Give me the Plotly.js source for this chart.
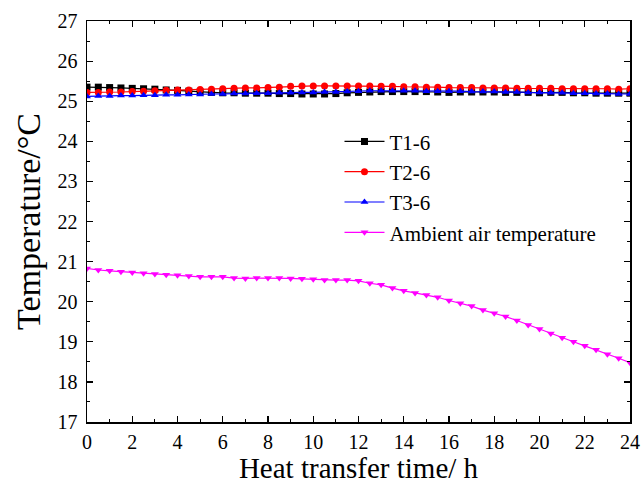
<!DOCTYPE html>
<html>
<head>
<meta charset="utf-8">
<script src="https://cdn.plot.ly/plotly-3.0.1.min.js"></script>
<style>html,body{margin:0;padding:0;background:#fff;}#chart{width:643px;height:484px;}</style>
</head>
<body>
<div id="chart"></div>
<script>
// time in hours, 0..24 step 0.5
var hours = [0,0.5,1,1.5,2,2.5,3,3.5,4,4.5,5,5.5,6,6.5,7,7.5,8,8.5,9,9.5,10,10.5,11,11.5,12,12.5,13,13.5,14,14.5,15,15.5,16,16.5,17,17.5,18,18.5,19,19.5,20,20.5,21,21.5,22,22.5,23,23.5,24];

var t1 = [25.35,25.35,25.34,25.33,25.32,25.31,25.30,25.28,25.27,25.25,25.23,25.22,25.21,25.21,25.20,25.20,25.20,25.19,25.19,25.18,25.18,25.18,25.19,25.21,25.22,25.23,25.24,25.24,25.24,25.24,25.24,25.23,25.22,25.23,25.23,25.23,25.23,25.22,25.22,25.22,25.21,25.22,25.22,25.21,25.21,25.20,25.20,25.20,25.20];

var t2 = [25.22,25.22,25.23,25.23,25.24,25.25,25.26,25.27,25.28,25.28,25.29,25.30,25.31,25.32,25.33,25.33,25.34,25.35,25.37,25.38,25.38,25.38,25.38,25.38,25.38,25.38,25.37,25.37,25.36,25.36,25.35,25.35,25.34,25.34,25.34,25.33,25.33,25.33,25.32,25.32,25.32,25.32,25.31,25.31,25.31,25.31,25.31,25.30,25.31];

var t3 = [25.12,25.13,25.13,25.14,25.14,25.15,25.15,25.16,25.16,25.17,25.17,25.18,25.18,25.19,25.19,25.20,25.20,25.21,25.21,25.22,25.22,25.23,25.23,25.24,25.25,25.26,25.26,25.26,25.26,25.26,25.25,25.25,25.25,25.25,25.24,25.24,25.24,25.23,25.23,25.22,25.22,25.21,25.21,25.20,25.20,25.19,25.19,25.18,25.18];

var ambient = [20.83,20.79,20.77,20.75,20.73,20.71,20.69,20.67,20.66,20.64,20.62,20.62,20.62,20.59,20.58,20.59,20.59,20.59,20.58,20.57,20.56,20.54,20.54,20.54,20.52,20.46,20.42,20.34,20.27,20.22,20.17,20.11,20.03,19.96,19.89,19.79,19.71,19.63,19.53,19.42,19.32,19.21,19.10,19.00,18.90,18.80,18.69,18.59,18.48];

var seriesNames = ["T1-6","T2-6","T3-6","Ambient air temperature"];

var font = "Liberation Serif, Times New Roman, serif";

function tr(y, name, color, symbol) {
  return {x: hours, y: y, name: name, type: "scatter", mode: "lines+markers",
    line: {color: color, width: 1.2},
    marker: {color: color, symbol: symbol, size: 7}};
}

var data = [
  tr(t1, seriesNames[0], "#000000", "square"),
  tr(t2, seriesNames[1], "#ff0000", "circle"),
  tr(t3, seriesNames[2], "#0000ff", "triangle-up"),
  tr(ambient, seriesNames[3], "#ff00ff", "triangle-down")
];

var axisCommon = {
  showline: true, linecolor: "#000", linewidth: 1.5, mirror: "ticks",
  ticks: "inside", ticklen: 6, tickwidth: 1.2, tickcolor: "#000",
  showgrid: false, zeroline: false,
  tickfont: {family: font, size: 20, color: "#000"}
};

var layout = {
  width: 643, height: 484,
  margin: {l: 87, r: 13, t: 21, b: 62, autoexpand: false},
  paper_bgcolor: "#fff", plot_bgcolor: "#fff",
  font: {family: font, color: "#000"},
  showlegend: true,
  legend: {x: 0.465, y: 0.75, xanchor: "left", yanchor: "top",
    bgcolor: "rgba(0,0,0,0)", font: {family: font, size: 21, color: "#000"},
    tracegroupgap: 0, itemwidth: 40},
  xaxis: Object.assign({}, axisCommon, {
    range: [0, 24], dtick: 2, tick0: 0,
    minor: {ticks: "inside", ticklen: 3, dtick: 1, tickcolor: "#000", tickwidth: 1},
    ticklabelstandoff: 1,
    automargin: false,
    title: {text: "Heat transfer time/ h", font: {family: font, size: 29, color: "#000"}, standoff: 8}
  }),
  yaxis: Object.assign({}, axisCommon, {
    range: [17, 27], dtick: 1, tick0: 17,
    minor: {ticks: "inside", ticklen: 3, dtick: 0.5, tickcolor: "#000", tickwidth: 1},
    ticklabelstandoff: 4,
    automargin: false,
    title: {text: "Temperature/°C", font: {family: font, size: 34, color: "#000"}, standoff: 6}
  })
};

Plotly.newPlot("chart", data, layout, {displayModeBar: false, staticPlot: true});
</script>
</body>
</html>
